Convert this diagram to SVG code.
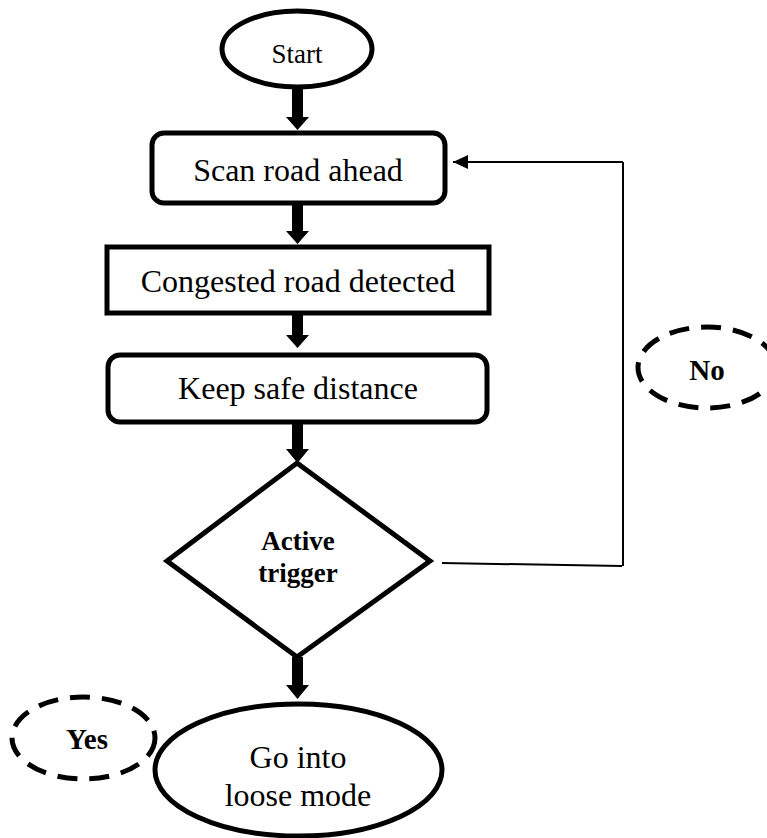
<svg xmlns="http://www.w3.org/2000/svg" width="767" height="838" viewBox="0 0 767 838">
  <defs>
    <style>
      .shape { fill: #fff; stroke: #000; stroke-width: 5; }
      .dash { fill: none; stroke: #000; stroke-width: 5; stroke-dasharray: 20 12; }
      .lbl { font-family: "Liberation Serif", "Times New Roman", serif; font-size: 32px; fill: #000; text-anchor: middle; }
      .blbl { font-family: "Liberation Serif", "Times New Roman", serif; font-size: 29px; font-weight: bold; fill: #000; text-anchor: middle; }
      .thin { fill: none; stroke: #000; stroke-width: 2; }
      .arrow { fill: #000; stroke: none; }
    </style>
    <marker id="ah" markerWidth="15" markerHeight="14" refX="15" refY="7" orient="auto" markerUnits="userSpaceOnUse" viewBox="0 0 15 14">
      <path d="M0,0 L15,7 L0,14 Z" fill="#000"/>
    </marker>
  </defs>

  <g id="start">
    <ellipse class="shape" cx="297" cy="49" rx="75" ry="38"/>
    <text class="lbl" x="297" y="63" style="font-size:27px">Start</text>
  </g>

  <g id="scan">
    <rect class="shape" x="152" y="133" width="293" height="70" rx="12" ry="12"/>
    <text class="lbl" x="298" y="181">Scan road ahead</text>
  </g>

  <g id="congested">
    <rect class="shape" x="107" y="247" width="382" height="66"/>
    <text class="lbl" x="298" y="292">Congested road detected</text>
  </g>

  <g id="keep">
    <rect class="shape" x="108" y="355" width="379" height="67" rx="12" ry="12"/>
    <text class="lbl" x="298" y="399">Keep safe distance</text>
  </g>

  <g id="decision">
    <polygon class="shape" points="297,463 430,561 297,657 167,561" stroke-linejoin="miter"/>
    <text class="blbl" x="298" y="550" style="font-size:27px">Active</text>
    <text class="blbl" x="298" y="582" style="font-size:27px">trigger</text>
  </g>

  <g id="loose">
    <ellipse class="shape" cx="298.5" cy="770" rx="143.5" ry="66"/>
    <text class="lbl" x="298" y="768">Go into</text>
    <text class="lbl" x="298" y="806">loose mode</text>
  </g>

  <g id="no-label">
    <ellipse class="dash" cx="707" cy="367.5" rx="69" ry="40.5"/>
    <text class="blbl" x="707" y="380">No</text>
  </g>

  <g id="yes-label">
    <ellipse class="dash" cx="83.5" cy="738" rx="71.5" ry="41"/>
    <text class="blbl" x="87" y="749">Yes</text>
  </g>

  <g id="connectors">
    <path class="arrow" d="M292,87 L303,87 L303,117 L309,117 L297.5,130 L286,117 L292,117 Z"/>
    <path class="arrow" d="M292,205 L303,205 L303,231 L309,231 L297.5,244 L286,231 L292,231 Z"/>
    <path class="arrow" d="M292,315 L303,315 L303,335 L309,335 L297.5,348 L286,335 L292,335 Z"/>
    <path class="arrow" d="M292,424 L303,424 L303,449 L309,449 L297.5,463 L286,449 L292,449 Z"/>
    <path class="arrow" d="M292,657 L303,657 L303,685 L309,685 L297.5,699 L286,685 L292,685 Z"/>
    <path class="thin" d="M442,563 L622,566"/>
    <path class="thin" d="M623,162 L623,566"/>
    <path class="thin" d="M623,162 L453,162" marker-end="url(#ah)"/>
  </g>
</svg>
